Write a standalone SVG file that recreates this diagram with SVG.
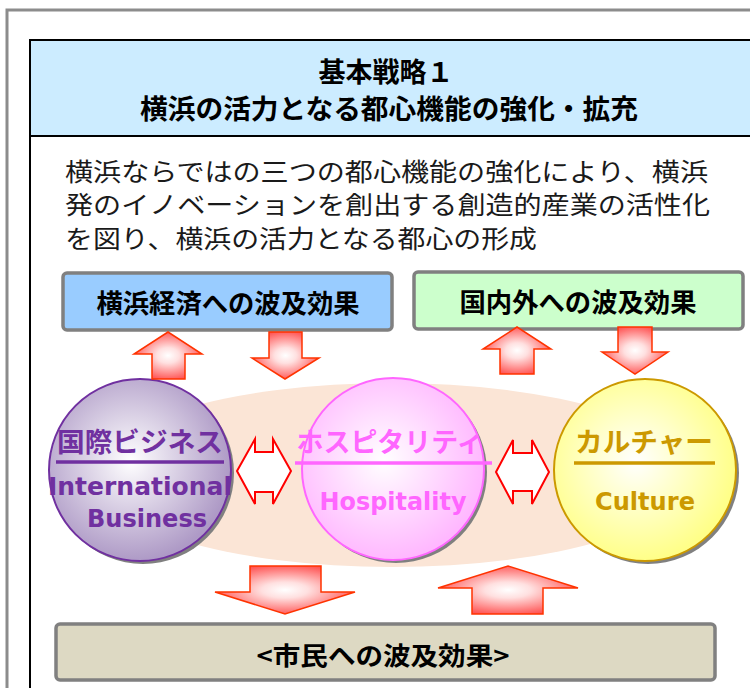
<svg xmlns="http://www.w3.org/2000/svg" width="750" height="688" viewBox="0 0 750 688">
<defs>
<style>
.jp{font-family:"Noto Sans CJK JP","Noto Sans",sans-serif;}
.b{font-weight:bold;}
.lat{font-family:"DejaVu Sans","Noto Sans",sans-serif;font-weight:bold;}
.box{stroke:#808080;stroke-width:3.5;}
.shadow{fill:#808080;}
.arr{fill:url(#arrGrad);stroke:#FF3300;stroke-width:1.5;stroke-linejoin:miter;}
.dbl{fill:#FFFFFF;stroke:#FF0000;stroke-width:2;}
</style>
<radialGradient id="arrGrad" cx="0.5" cy="0.5" r="0.55">
<stop offset="0" stop-color="#FFFFFF"/>
<stop offset="0.3" stop-color="#FFE0E0"/>
<stop offset="1" stop-color="#FF4C4C"/>
</radialGradient>
<radialGradient id="gPurple" cx="0.45" cy="0.45" r="0.55">
<stop offset="0" stop-color="#FFFFFF"/>
<stop offset="1" stop-color="#AE9AC6"/>
</radialGradient>
<radialGradient id="gPink" cx="0.45" cy="0.45" r="0.55">
<stop offset="0" stop-color="#FFFFFF"/>
<stop offset="1" stop-color="#FFB8FF"/>
</radialGradient>
<radialGradient id="gYellow" cx="0.45" cy="0.45" r="0.55">
<stop offset="0" stop-color="#FFFFFF"/>
<stop offset="1" stop-color="#FFFF88"/>
</radialGradient>
</defs>

<rect x="0" y="0" width="750" height="688" fill="#FFFFFF"/>
<!-- outer frame -->
<rect x="7" y="10" width="760" height="700" fill="none" stroke="#8C8C8C" stroke-width="3"/>
<!-- inner frame -->
<rect x="30" y="40" width="740" height="670" fill="#FFFFFF" stroke="#000000" stroke-width="2"/>

<g id="header">
<rect x="31" y="41" width="730" height="95" fill="#CCECFF"/>
<line x1="30" y1="136" x2="750" y2="136" stroke="#000000" stroke-width="2"/>
<text class="jp b" x="386" y="82" font-size="27" text-anchor="middle" fill="#000000">基本戦略１</text>
<text class="jp b" x="389" y="119" font-size="27" text-anchor="middle" textLength="498" lengthAdjust="spacingAndGlyphs" fill="#000000">横浜の活力となる都心機能の強化・拡充</text>
</g>

<g id="description" class="jp" font-size="25" fill="#1A1A1A">
<text x="65" y="181" textLength="643" lengthAdjust="spacingAndGlyphs">横浜ならではの三つの都心機能の強化により、横浜</text>
<text x="65" y="214" textLength="645" lengthAdjust="spacingAndGlyphs">発のイノベーションを創出する創造的産業の活性化</text>
<text x="65" y="248" textLength="472" lengthAdjust="spacingAndGlyphs">を図り、横浜の活力となる都心の形成</text>
</g>

<g id="backdrop">
<ellipse cx="392" cy="475" rx="300" ry="92" fill="#FBE5D6"/>
</g>

<g id="box-yokohama-economy">
<rect x="63" y="273" width="329" height="57" rx="4" fill="#99CCFF" class="box"/>
<text class="jp b" x="228" y="313" font-size="26" text-anchor="middle" textLength="263" lengthAdjust="spacingAndGlyphs" fill="#000000">横浜経済への波及効果</text>
</g>

<g id="box-domestic-international">
<rect x="414" y="272" width="329" height="57" rx="4" fill="#CCFFCC" class="box"/>
<text class="jp b" x="578" y="312" font-size="26" text-anchor="middle" textLength="237" lengthAdjust="spacingAndGlyphs" fill="#000000">国内外への波及効果</text>
</g>

<g id="box-citizens">
<rect x="56" y="624" width="659" height="56" rx="4" fill="#DDD9C3" class="box"/>
<text class="jp b" x="383" y="665" font-size="25" text-anchor="middle" textLength="253" lengthAdjust="spacingAndGlyphs" fill="#000000">&lt;市民への波及効果&gt;</text>
</g>

<g id="node-international-business">
<circle cx="143" cy="473" r="91" class="shadow"/>
<circle cx="140" cy="470" r="91" fill="url(#gPurple)" stroke="#7030A0" stroke-width="2"/>
<text class="jp b" x="140" y="452" font-size="27" text-anchor="middle" textLength="166" lengthAdjust="spacingAndGlyphs" fill="#7030A0">国際ビジネス</text>
<line x1="56" y1="462" x2="224" y2="462" stroke="#7030A0" stroke-width="3.5"/>
<text class="lat" x="140" y="495" font-size="25" text-anchor="middle" textLength="184" lengthAdjust="spacingAndGlyphs" fill="#7030A0">International</text>
<text class="lat" x="147" y="527" font-size="25" text-anchor="middle" textLength="120" lengthAdjust="spacingAndGlyphs" fill="#7030A0">Business</text>
</g>

<g id="node-hospitality">
<circle cx="396" cy="472" r="91" class="shadow"/>
<circle cx="393" cy="469" r="91" fill="url(#gPink)" stroke="#FF66FF" stroke-width="2"/>
<text class="jp b" x="390" y="452" font-size="27" text-anchor="middle" textLength="187" lengthAdjust="spacingAndGlyphs" fill="#FF66FF">ホスピタリティ</text>
<line x1="295" y1="463" x2="492" y2="463" stroke="#FF66FF" stroke-width="3.5"/>
<text class="lat" x="393" y="510" font-size="25" text-anchor="middle" textLength="147" lengthAdjust="spacingAndGlyphs" fill="#FF66FF">Hospitality</text>
</g>

<g id="node-culture">
<circle cx="648" cy="473" r="91" class="shadow"/>
<circle cx="645" cy="470" r="91" fill="url(#gYellow)" stroke="#CC9900" stroke-width="2"/>
<text class="jp b" x="644" y="452" font-size="27" text-anchor="middle" textLength="138" lengthAdjust="spacingAndGlyphs" fill="#CC9900">カルチャー</text>
<line x1="574" y1="463" x2="715" y2="463" stroke="#CC9900" stroke-width="3.5"/>
<text class="lat" x="645" y="510" font-size="25" text-anchor="middle" textLength="100" lengthAdjust="spacingAndGlyphs" fill="#CC9900">Culture</text>
</g>

<g id="connectors">
<!-- top left: up and down -->
<path class="arr" d="M152,379 L152,354 L134,354 L168,332 L202,354 L185,354 L185,379 Z"/>
<path class="arr" d="M269,332 L302,332 L302,358 L319,358 L285,379 L252,358 L269,358 Z"/>
<!-- top right: up and down -->
<path class="arr" d="M500,374 L500,349 L483,349 L517,327 L551,349 L534,349 L534,374 Z"/>
<path class="arr" d="M618,327 L652,327 L652,352 L668,352 L635,374 L602,352 L618,352 Z"/>
<!-- bottom: down and up -->
<path class="arr" d="M250,566 L321,566 L321,592 L355,592 L285,614 L215,592 L250,592 Z"/>
<path class="arr" d="M472,614 L472,588 L438,588 L508,566 L578,588 L543,588 L543,614 Z"/>
<!-- double arrows between circles -->
<path class="dbl" d="M237,471 L255,439 L255,452 L273,452 L273,439 L291,471 L273,504 L273,492 L255,492 L255,504 Z"/>
<path class="dbl" d="M496,472 L513,440 L513,453 L532,453 L532,440 L549,472 L532,504 L532,491 L513,491 L513,504 Z"/>
</g>
</svg>
